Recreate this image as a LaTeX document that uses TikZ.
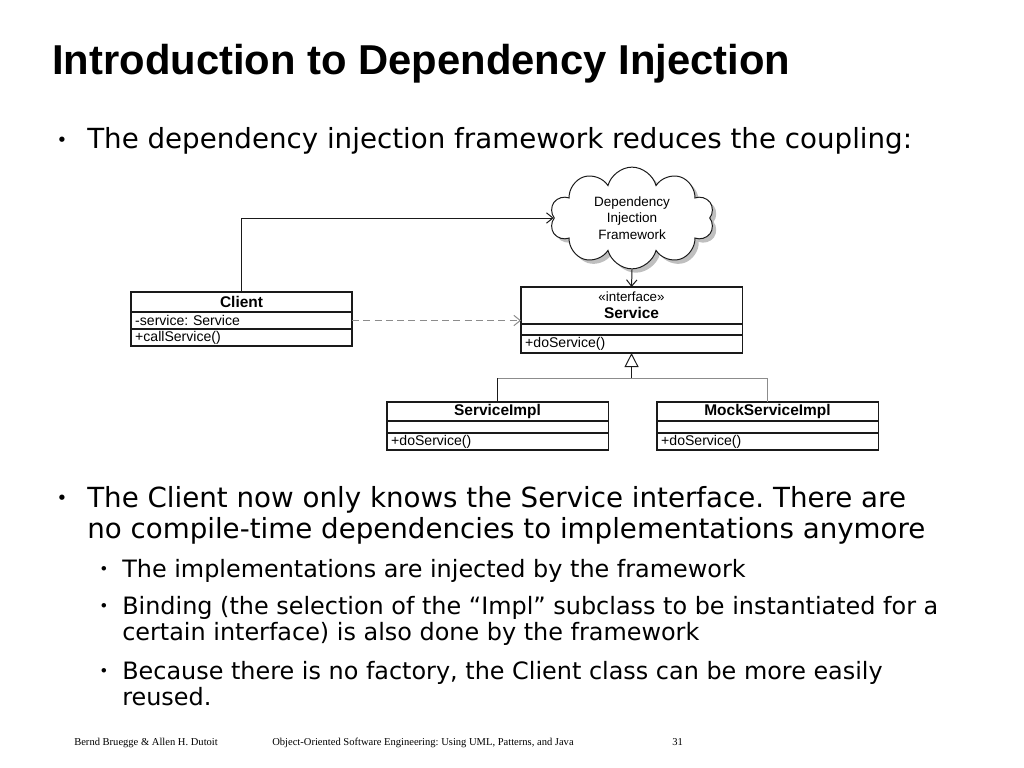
\documentclass[tikz,border=0pt]{standalone}
\usepackage{fontspec}
\setmainfont{DejaVu Sans}
\newfontfamily\umlfont{Liberation Sans}
\newfontfamily\footfont{Liberation Serif}
\usepackage{tikz}
\usetikzlibrary{shapes.symbols, arrows.meta, positioning, calc, shadows}
\definecolor{umlline}{HTML}{1A1A1A}
\definecolor{depgray}{HTML}{8C8C8C}

\begin{document}
\frenchspacing
\begin{tikzpicture}[x=0.025cm, y=-0.025cm,
    umlbox/.style={draw=umlline, line width=0.8pt, outer sep=0pt, inner xsep=3pt, inner ysep=0pt, minimum width=5.525cm, text width=5.314cm, align=left, font=\umlfont\fontsize{10}{11}\selectfont},
    umltitle/.style={umlbox, align=center, font=\umlfont\bfseries\fontsize{11}{12}\selectfont},
    link/.style={-{Straight Barb[length=1.6mm, width=2.6mm]}, line width=0.7pt, color=umlline},
    mainline/.style={anchor=base west, inner sep=0pt, align=left, font=\fontsize{19.7}{22}\selectfont},
    subline/.style={anchor=base west, inner sep=0pt, align=left, font=\fontsize{17}{18.4}\selectfont},
    dot/.style={anchor=base, font=\fontsize{#1}{#1}\selectfont}
]
\useasboundingbox (0,0) rectangle (1024,768);

% Title and first bullet
\node[anchor=base west, inner sep=0pt, font=\umlfont\bfseries\fontsize{29.7}{32}\selectfont] (title) at (52,75) {Introduction to Dependency Injection};
\node[dot=13] (b1) at (62,149) {\raisebox{0.15em}{•}};
\node[mainline] (t1) at (87,149) {The dependency injection framework reduces the coupling:};

% Framework cloud
\node[cloud, draw=umlline, line width=0.7pt, fill=white, drop shadow, cloud puffs=10, aspect=1.8, minimum width=4.1cm, minimum height=2.2cm, align=center, font=\umlfont\fontsize{9.6}{11.7}\selectfont] (framework) at (632,218) {Dependency\\Injection\\Framework};

% Client class
\node[umltitle, minimum height=0.5cm, anchor=north west] (client) at (131,292) {Client};
\node[umlbox, minimum height=0.425cm, below=0pt of client] (clientattr) {-service: Service};
\node[umlbox, minimum height=0.425cm, below=0pt of clientattr] (clientops) {+callService()};

% Service interface
\node[umltitle, minimum height=0.925cm, anchor=north west] (service) at (521,287) {{\mdseries\fontsize{9.5}{11}\selectfont «interface»}\\Service};
\node[umlbox, minimum height=0.275cm, below=0pt of service] (servicefld) {};
\node[umlbox, minimum height=0.45cm, below=0pt of servicefld] (serviceops) {+doService()};

% Implementations
\node[umltitle, minimum height=0.475cm, anchor=north west] (srvimpl) at (387,402) {ServiceImpl};
\node[umlbox, minimum height=0.3cm, below=0pt of srvimpl] (srvimplfld) {};
\node[umlbox, minimum height=0.425cm, below=0pt of srvimplfld] (srvimplops) {+doService()};

\node[umltitle, minimum height=0.475cm, anchor=north west] (mock) at (657,402) {MockServiceImpl};
\node[umlbox, minimum height=0.3cm, below=0pt of mock] (mockfld) {};
\node[umlbox, minimum height=0.425cm, below=0pt of mockfld] (mockops) {+doService()};

% Connectors
\draw[link] (client.north) |- (framework.west);
\draw[link] (framework.south) -- (service.north);
\draw[link, color=depgray, dash pattern=on 5pt off 3pt] (clientattr.east) -- (clientattr.east -| service.west);
\coordinate (fork) at ($(serviceops.south)+(0,25)$);
\draw[umlline, line width=0.7pt, -{Triangle[open, length=3.5mm, width=3.5mm]}] (fork) -- (serviceops.south);
\draw[umlline, line width=0.7pt] (srvimpl.north) -- (srvimpl.north |- fork);
\draw[depgray, line width=0.7pt] (srvimpl.north |- fork) -- (fork) -| (mock.north);

% Second bullet with sub-bullets (multi-line texts sit on their last baseline)
\node[dot=13] (b2) at (62,507) {\raisebox{0.15em}{•}};
\node[mainline] (t2) at (87,538) {The Client now only knows the Service interface. There are\\no compile-time dependencies to implementations anymore};
\node[dot=11] (b3) at (104,577) {\raisebox{0.15em}{•}};
\node[subline] (t3) at (122,577) {The implementations are injected by the framework};
\node[dot=11] (b4) at (104,614) {\raisebox{0.15em}{•}};
\node[subline] (t4) at (122,640) {Binding (the selection of the “Impl” subclass to be instantiated for a\\certain interface) is also done by the framework};
\node[dot=11] (b5) at (104,679) {\raisebox{0.15em}{•}};
\node[subline] (t5) at (122,705) {Because there is no factory, the Client class can be more easily\\reused.};

% Footer
\node[anchor=base west, inner sep=0pt, font=\footfont\fontsize{7.5}{9}\selectfont] (authors) at (74,745) {Bernd Bruegge \& Allen H. Dutoit};
\node[anchor=base west, inner sep=0pt, font=\footfont\fontsize{7.5}{9}\selectfont] (book) at (272,745) {Object-Oriented Software Engineering: Using UML, Patterns, and Java};
\node[anchor=base west, inner sep=0pt, font=\footfont\fontsize{7.5}{9}\selectfont] (page) at (672,745) {31};
\end{tikzpicture}
\end{document}
